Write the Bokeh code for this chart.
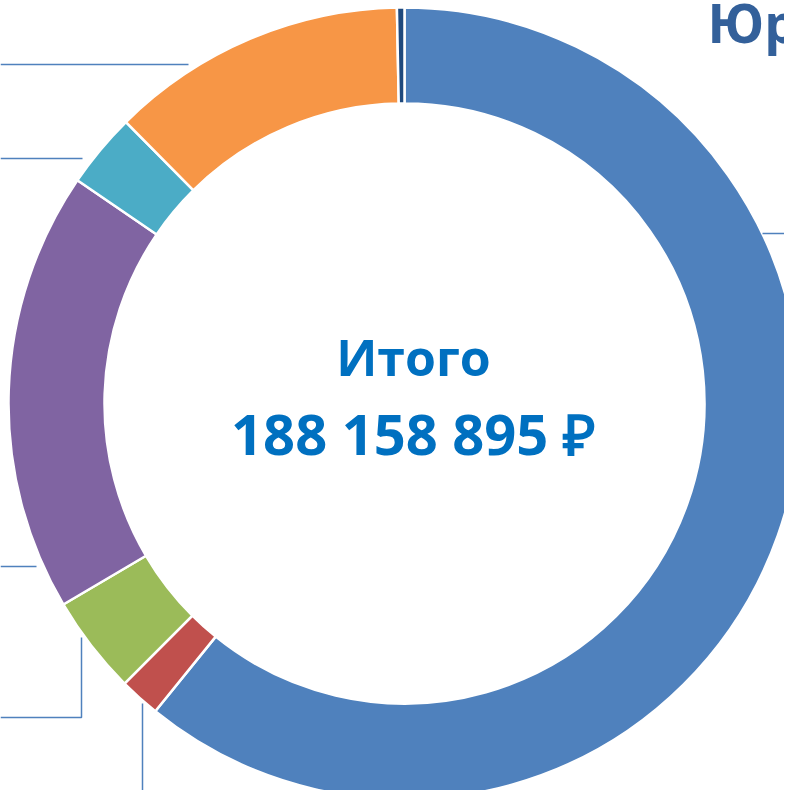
from bokeh.plotting import figure
from bokeh.models import Range1d, ColumnDataSource
from bokeh.core.properties import value
from bokeh.embed import file_html
from bokeh.resources import INLINE
import numpy as np

# ---- data (clockwise from 12 o'clock) ----
segments = ["s1", "s2", "s3", "s4", "s5", "s6", "s7"]
amounts = [114463000, 3136000, 7579000, 33869000, 5749000, 22787895, 575000]
colors = ["#4F81BD", "#C0504D", "#9BBB59", "#8064A2", "#4BACC6", "#F79646", "#1F497D"]
total_label = "188 158 895 ₽"
center_title = "Итого"
chart_title = "Юридические лица"

# ---- layout (pixel coordinates of the picture, origin top-left) ----
W, H = 784, 790
cx_s, cy_s = 404, 403
R_out, R_in = 396, 300
TEXT_SHIFT = 21  # compensation for baseline placement

def sy(y):
    return H - y

vals = np.array(amounts, dtype=float)
frac = vals / vals.sum()
cum = np.concatenate([[0.0], np.cumsum(frac)]) * 2 * np.pi
start = np.pi / 2 - cum[1:]
end = np.pi / 2 - cum[:-1]

p = figure(width=W, height=H, output_backend="svg", toolbar_location=None,
           x_range=Range1d(0, W), y_range=Range1d(0, H),
           min_border=0, x_axis_location=None, y_axis_location=None)
p.grid.visible = False
p.outline_line_color = None
p.background_fill_color = "white"

src = ColumnDataSource(dict(start=start, end=end, color=colors, seg=segments))
p.annular_wedge(x=cx_s, y=sy(cy_s), inner_radius=R_in, outer_radius=R_out,
                start_angle="start", end_angle="end", fill_color="color",
                line_color="white", line_width=2.5, source=src)

# leader lines (their labels lie outside the visible area)
leaders = [
    ([0, 188], [64, 64]),
    ([0, 82], [158, 158]),
    ([0, 36], [566, 566]),
    ([0, 81, 81], [717, 717, 637]),
    ([142, 142], [800, 703]),
    ([762, 792], [233, 233]),
]
p.multi_line(xs=[l[0] for l in leaders], ys=[[sy(v) for v in l[1]] for l in leaders],
             line_color="#4F81BD", line_width=1.5)

p.text(x=[413], y=[sy(377 - TEXT_SHIFT)], text=[center_title], text_font=value("Open Sans"),
       text_font_style="bold", text_font_size="50px", text_color="#0070C0",
       text_align="center", text_baseline="alphabetic")
p.text(x=[413], y=[sy(453 - TEXT_SHIFT)], text=[total_label], text_font=value("Open Sans"),
       text_font_style="bold", text_font_size="56px", text_color="#0070C0",
       text_align="center", text_baseline="alphabetic")
p.text(x=[707], y=[sy(43 - TEXT_SHIFT)], text=[chart_title], text_font=value("Open Sans"),
       text_font_style="bold", text_font_size="53px", text_color="#33609A",
       text_align="left", text_baseline="alphabetic")

open("out.html", "w").write(file_html(p, INLINE))
